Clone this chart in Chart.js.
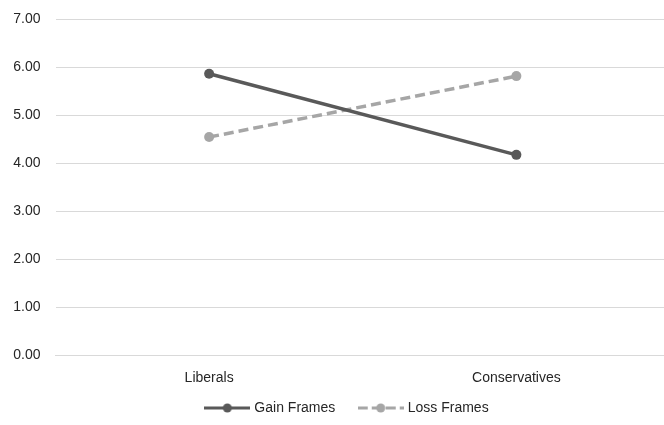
<!DOCTYPE html>
<html>
<head>
<meta charset="utf-8">
<script src="https://cdn.jsdelivr.net/npm/chart.js@4/dist/chart.umd.min.js"></script>
<style>
  html, body { margin: 0; padding: 0; background: #fff; overflow: hidden; }
  #frame { width: 664px; height: 425px; overflow: hidden; position: relative; }
  #wrap { width: 670px; height: 425px; position: relative; }
</style>
</head>
<body>
<div id="frame"><div id="wrap"><canvas id="c" width="670" height="425"></canvas></div></div>
<script>
// Ideology groups and mean ratings under each framing condition
const categories = ['Liberals', 'Conservatives'];
const gainFrames = [5.86, 4.17];
const lossFrames = [4.54, 5.81];
const yTicks = [0, 1, 2, 3, 4, 5, 6, 7];

const gainColor = '#595959';
const lossColor = '#A6A6A6';
const textColor = '#262626';
const fontFamily = 'Liberation Sans, Arial, sans-serif';

// Legend swatch: short line with a marker in the middle
function swatch(color, dashed) {
  const cv = document.createElement('canvas');
  cv.width = 46; cv.height = 12;
  const g = cv.getContext('2d');
  g.strokeStyle = color;
  g.lineWidth = 3;
  if (dashed) g.setLineDash([10, 4]);
  g.beginPath(); g.moveTo(0, 6); g.lineTo(46, 6); g.stroke();
  g.setLineDash([]);
  g.fillStyle = color;
  g.beginPath(); g.arc(23, 6, 4.5, 0, Math.PI * 2); g.fill();
  return cv;
}

// Nudge the legend row sideways after layout
const legendShift = {
  id: 'legendShift',
  afterLayout(chart) {
    const lg = chart.legend;
    if (lg) { lg.left += 13; lg.right += 13; }
  }
};

new Chart(document.getElementById('c'), {
  type: 'line',
  data: {
    labels: categories,
    datasets: [
      {
        label: 'Gain Frames',
        data: gainFrames,
        borderColor: gainColor,
        backgroundColor: gainColor,
        borderWidth: 3.5,
        pointRadius: 5,
        pointHoverRadius: 5,
        pointBorderWidth: 0,
        pointBackgroundColor: gainColor,
        legendStyle: swatch(gainColor, false)
      },
      {
        label: 'Loss Frames',
        data: lossFrames,
        borderColor: lossColor,
        backgroundColor: lossColor,
        borderWidth: 3.5,
        borderDash: [10, 5],
        pointRadius: 5,
        pointHoverRadius: 5,
        pointBorderWidth: 0,
        pointBackgroundColor: lossColor,
        legendStyle: swatch(lossColor, true)
      }
    ]
  },
  plugins: [legendShift],
  options: {
    responsive: false,
    animation: false,
    layout: { autoPadding: false, padding: 0 },
    plugins: {
      tooltip: { enabled: false },
      legend: {
        position: 'bottom',
        labels: {
          usePointStyle: true,
          pointStyleWidth: 40,
          boxHeight: 12,
          padding: 6,
          color: textColor,
          font: { family: fontFamily, size: 14 },
          generateLabels(chart) {
            return chart.data.datasets.map((ds, i) => ({
              text: i === 0 ? ds.label + '     ' : ds.label,
              fillStyle: ds.borderColor,
              strokeStyle: ds.borderColor,
              lineWidth: 0,
              pointStyle: ds.legendStyle,
              hidden: false,
              datasetIndex: i,
              fontColor: textColor
            }));
          }
        }
      }
    },
    scales: {
      x: {
        offset: true,
        grid: { display: false, drawTicks: false },
        border: { display: true, color: '#D9D9D9', width: 1 },
        afterFit(scale) { scale.height = 40; },
        ticks: {
          padding: 15,
          color: textColor,
          font: { family: fontFamily, size: 14 }
        }
      },
      y: {
        min: 0,
        max: 7,
        afterBuildTicks(scale) { scale.ticks = yTicks.map(v => ({ value: v })); },
        afterFit(scale) { scale.width = 55.5; scale.paddingTop = 19; },
        grid: { color: '#D9D9D9', lineWidth: 1, drawTicks: false },
        border: { display: false },
        ticks: {
          padding: 15,
          color: textColor,
          font: { family: fontFamily, size: 14 },
          callback: v => Number(v).toFixed(2)
        }
      }
    }
  }
});
</script>
</body>
</html>
